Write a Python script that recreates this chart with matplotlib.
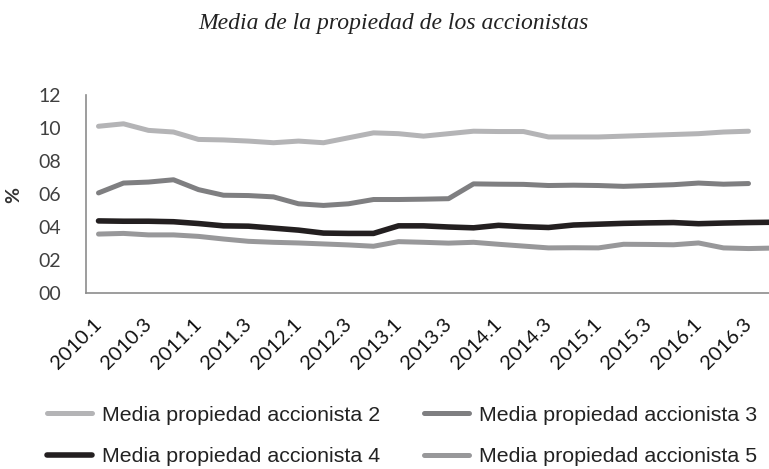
import matplotlib
matplotlib.use('Agg')
import matplotlib.pyplot as plt
import numpy as np

# Trimestres 2010.1 - 2016.4
periodos = [f'{a}.{t}' for a in range(2010, 2017) for t in range(1, 5)]

accionista_2 = [10.1, 10.25, 9.85, 9.75, 9.3, 9.27, 9.2, 9.1, 9.2, 9.1, 9.4, 9.7,
                9.65, 9.5, 9.65, 9.8, 9.78, 9.78, 9.45, 9.45, 9.45, 9.5, 9.55, 9.6,
                9.65, 9.75, 9.8, np.nan]
accionista_3 = [6.05, 6.65, 6.71, 6.85, 6.25, 5.91, 5.89, 5.81, 5.39, 5.29, 5.39, 5.65,
                5.65, 5.67, 5.7, 6.6, 6.58, 6.57, 6.5, 6.52, 6.5, 6.45, 6.5, 6.55,
                6.65, 6.58, 6.62, np.nan]
accionista_4 = [4.35, 4.33, 4.33, 4.3, 4.19, 4.05, 4.03, 3.91, 3.79, 3.61, 3.59, 3.59,
                4.05, 4.05, 3.98, 3.93, 4.08, 4.0, 3.95, 4.1, 4.15, 4.2, 4.23, 4.25,
                4.18, 4.22, 4.25, 4.27]
accionista_5 = [3.55, 3.59, 3.5, 3.5, 3.41, 3.25, 3.11, 3.05, 3.01, 2.95, 2.89, 2.81,
                3.09, 3.05, 3.0, 3.05, 2.93, 2.82, 2.71, 2.72, 2.71, 2.93, 2.92, 2.9,
                3.01, 2.71, 2.67, 2.7]

series = [
    ('Media propiedad accionista 2', accionista_2, '#b4b4b6', 3.6),
    ('Media propiedad accionista 3', accionista_3, '#7f7f81', 3.6),
    ('Media propiedad accionista 4', accionista_4, '#231f20', 4.0),
    ('Media propiedad accionista 5', accionista_5, '#98989a', 3.6),
]

fig = plt.figure(figsize=(7.69, 4.69), dpi=100)
# el eje se sale por la derecha, como en el original recortado
ax = fig.add_axes([86 / 769, 176.5 / 469, 700 / 769, 197.5 / 469])

x = np.arange(len(periodos))
handles = []
for nombre, valores, color, lw in series:
    h, = ax.plot(x, valores, color=color, linewidth=lw, solid_capstyle='round',
                 solid_joinstyle='round', label=nombre)
    handles.append(h)

ax.set_xlim(-0.5, len(periodos) - 0.5)
ax.set_ylim(0, 12)
ax.set_yticks(range(0, 13, 2))
ax.set_yticklabels([f'{v:02d}' for v in range(0, 13, 2)], fontsize=14,
                   color='#404040', family='Lato')
ax.set_xticks(x[::2])
ax.set_xticklabels(periodos[::2], rotation=45, ha='right', va='center',
                   rotation_mode='anchor', fontsize=14.5, family='Lato',
                   color='#111111')
ax.tick_params(axis='both', length=0)
ax.tick_params(axis='y', pad=18)
ax.tick_params(axis='x', pad=21)
for s in ['top', 'right']:
    ax.spines[s].set_visible(False)
for s in ['left', 'bottom']:
    ax.spines[s].set_color('#8c8c8c')
    ax.spines[s].set_linewidth(1.2)

fig.text(14 / 769, 1 - 195 / 469, '%', rotation=90, ha='center', va='center',
         fontsize=14, family='Lato', fontweight='bold', color='#333333')
fig.text(393.5 / 769, 1 - 28.5 / 469, 'Media de la propiedad de los accionistas',
         ha='center', va='baseline', fontsize=17, style='italic',
         family='Liberation Serif', color='#222222')

# leyenda en dos columnas, una leyenda por columna
props = {'family': 'Liberation Sans', 'size': 15.4}
for handles_col, x0 in [([handles[0], handles[2]], 47 / 769),
                        ([handles[1], handles[3]], 424 / 769)]:
    leg = fig.legend(handles=handles_col, loc='center left',
                     bbox_to_anchor=(x0, 1 - 436 / 469), ncol=1, frameon=False,
                     handlelength=2.1, handletextpad=0.45, labelspacing=1.05,
                     borderpad=0, borderaxespad=0, prop=props)
    for t in leg.get_texts():
        t.set_color('#222222')

fig.savefig('out.png', dpi=100)
